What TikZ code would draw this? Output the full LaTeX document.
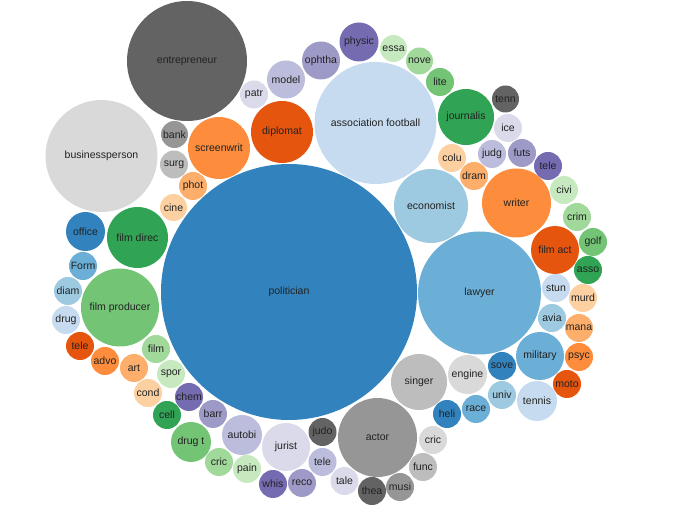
\documentclass[tikz,border=0pt]{standalone}
\usepackage{fontspec}
\setmainfont{Liberation Sans}
\definecolor{b1}{HTML}{3182BD}
\definecolor{b2}{HTML}{6BAED6}
\definecolor{b3}{HTML}{9ECAE1}
\definecolor{b4}{HTML}{C6DBEF}
\definecolor{o1}{HTML}{E6550D}
\definecolor{o2}{HTML}{FD8D3C}
\definecolor{o3}{HTML}{FDAE6B}
\definecolor{o4}{HTML}{FDD0A2}
\definecolor{gr1}{HTML}{31A354}
\definecolor{gr2}{HTML}{74C476}
\definecolor{gr3}{HTML}{A1D99B}
\definecolor{gr4}{HTML}{C7E9C0}
\definecolor{p1}{HTML}{756BB1}
\definecolor{p2}{HTML}{9E9AC8}
\definecolor{p3}{HTML}{BCBDDC}
\definecolor{p4}{HTML}{DADAEB}
\definecolor{g1}{HTML}{636363}
\definecolor{g2}{HTML}{969696}
\definecolor{g3}{HTML}{BDBDBD}
\definecolor{g4}{HTML}{D9D9D9}
\definecolor{txt}{HTML}{222222}
\newcommand\bub[6]{\node[bubble, fill=#5, minimum size=#4*2pt] (#1) at (#2,#3) {#6};}
\tikzset{bubble/.style={circle, inner sep=0pt, text=txt, font=\fontsize{10.5}{12}\selectfont}}
\begin{document}
\begin{tikzpicture}[x=1pt,y=-1pt]
\useasboundingbox (0,0) rectangle (681,510);
\bub{politician}{289}{292}{128}{b1}{politician}
\bub{entrepreneur}{187}{61}{60}{g1}{entrepreneur}
\bub{businessperson}{101.5}{156}{56}{g4}{businessperson}
\bub{assoc}{375.5}{123}{61}{b4}{association football}
\bub{lawyer}{479.5}{293}{61.5}{b2}{lawyer}
\bub{economist}{431}{206}{37}{b3}{economist}
\bub{writer}{516.5}{203}{34.5}{o2}{writer}
\bub{actor}{377.5}{437.5}{39.5}{g2}{actor}
\bub{filmprod}{120}{307.5}{39}{gr2}{film producer}
\bub{filmdirec}{137.5}{237.5}{30.5}{gr1}{film direc}
\bub{singer}{419}{382}{28}{g3}{singer}
\bub{diplomat}{282}{132}{31}{o1}{diplomat}
\bub{screenwrit}{219}{148}{31}{o2}{screenwrit}
\bub{journalis}{466}{117}{28}{gr1}{journalis}
\bub{jurist}{286}{447}{24}{p4}{jurist}
\bub{military}{540}{356}{24}{b2}{military}
\bub{drugt}{191}{442}{20}{gr2}{drug t}
\bub{autobi}{242}{435}{20}{p3}{autobi}
\bub{engine}{467.5}{374.5}{19.5}{g4}{engine}
\bub{tennis}{537}{401}{20}{b4}{tennis}
\bub{office}{85.5}{231.5}{19.5}{b1}{office}
\bub{filmact}{555}{250}{24}{o1}{film act}
\bub{model}{286}{79.5}{19}{p3}{model}
\bub{ophtha}{321}{60.5}{19}{p2}{ophtha}
\bub{physic}{359}{42}{19.5}{p1}{physic}
\bub{patr}{254}{94.5}{14}{p4}{patr}
\bub{bank}{174.5}{134.5}{13.5}{g2}{bank}
\bub{surg}{174}{164.5}{14}{g3}{surg}
\bub{phot}{193}{186}{14}{o3}{phot}
\bub{cine}{173.5}{207.5}{13.5}{o4}{cine}
\bub{essa}{393.5}{48.5}{13.5}{gr4}{essa}
\bub{nove}{419.5}{61}{13.5}{gr3}{nove}
\bub{lite}{440}{82}{14}{gr2}{lite}
\bub{tenn}{505.5}{99}{13.5}{g1}{tenn}
\bub{ice}{508}{128}{14}{p4}{ice}
\bub{colu}{452}{158}{14}{o4}{colu}
\bub{dram}{474}{176}{14}{o3}{dram}
\bub{judg}{492}{154}{14}{p3}{judg}
\bub{futs}{522}{153}{14}{p2}{futs}
\bub{teleA}{548}{166}{14}{p1}{tele}
\bub{civi}{564}{190}{14}{gr4}{civi}
\bub{crim}{577}{217}{14}{gr3}{crim}
\bub{golf}{593}{242}{14}{gr2}{golf}
\bub{asso}{588}{270}{14}{gr1}{asso}
\bub{stun}{556}{288}{14}{b4}{stun}
\bub{murd}{583}{298}{14}{o4}{murd}
\bub{avia}{552}{318}{14}{b3}{avia}
\bub{mana}{579}{328}{14}{o3}{mana}
\bub{psyc}{579}{357}{14}{o2}{psyc}
\bub{moto}{567}{384}{14}{o1}{moto}
\bub{sove}{502}{366}{14}{b1}{sove}
\bub{univ}{502}{395}{14}{b3}{univ}
\bub{race}{476}{409}{14}{b2}{race}
\bub{heli}{447}{414}{14}{b1}{heli}
\bub{cricA}{433}{440}{14}{g4}{cric}
\bub{func}{423}{467}{14}{g3}{func}
\bub{musi}{400}{487}{14}{g2}{musi}
\bub{thea}{372}{491}{14}{g1}{thea}
\bub{tale}{344.5}{481}{14}{p4}{tale}
\bub{judo}{322.5}{432}{14}{g1}{judo}
\bub{teleB}{322.5}{462}{14}{p3}{tele}
\bub{reco}{302}{483}{14}{p2}{reco}
\bub{whis}{273}{484}{14}{p1}{whis}
\bub{pain}{247}{469}{14}{gr4}{pain}
\bub{cricB}{219}{462}{14}{gr3}{cric}
\bub{barr}{213}{414}{14}{p2}{barr}
\bub{chem}{189}{397}{14}{p1}{chem}
\bub{cell}{167}{415}{14}{gr1}{cell}
\bub{cond}{148}{393}{14}{o4}{cond}
\bub{spor}{171}{374}{14}{gr4}{spor}
\bub{film}{156}{349}{14}{gr3}{film}
\bub{art}{134}{368}{14}{o3}{art}
\bub{advo}{105}{361}{14}{o2}{advo}
\bub{teleC}{80}{346}{14}{o1}{tele}
\bub{drug}{66}{320}{14}{b4}{drug}
\bub{diam}{68}{291}{14}{b3}{diam}
\bub{Form}{83}{266}{14}{b2}{Form}
\end{tikzpicture}
\end{document}
